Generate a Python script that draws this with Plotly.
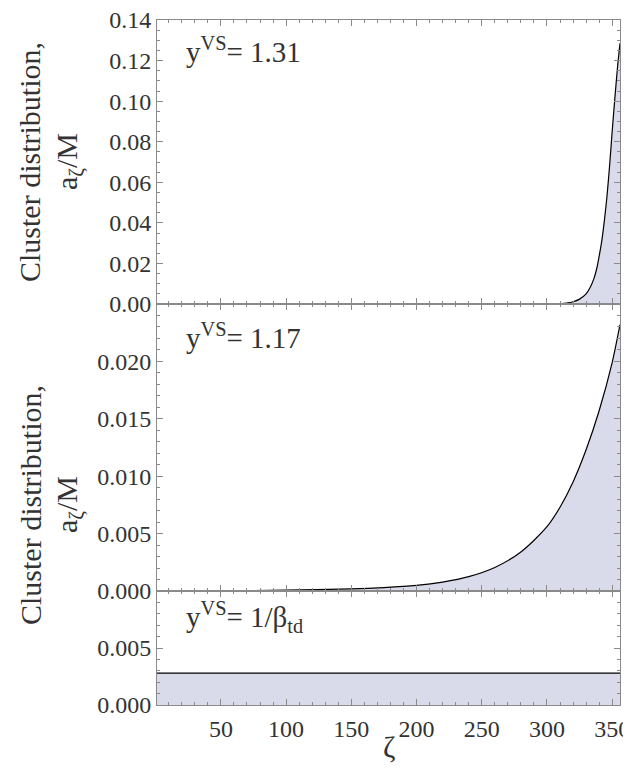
import plotly.graph_objects as go
from plotly.subplots import make_subplots

# Top panel (y_VS = 1.31)
zeta_top = [1, 250, 290, 305, 315, 320, 325, 330, 333, 336, 338, 340, 342, 344, 346, 348, 350, 352, 354, 356]
a_top = [0.0, 0.0, 0.0, 0.0001, 0.0005, 0.0011, 0.0024, 0.0050, 0.0080, 0.0125, 0.0170, 0.0235, 0.0310, 0.0410, 0.0530, 0.0680, 0.0850, 0.1010, 0.1160, 0.1285]

# Middle panel (y_VS = 1.17)
zeta_mid = [1, 50, 100, 150, 175, 200, 220, 240, 260, 280, 300, 310, 320, 330, 340, 350, 356]
a_mid = [0.0, 0.00002, 0.00007, 0.00018, 0.00030, 0.00049, 0.00078, 0.00125, 0.00205, 0.00340, 0.00560, 0.00730, 0.00950, 0.01230, 0.01570, 0.01990, 0.02320]

# Bottom panel (y_VS = 1/beta_td)
zeta_bot = [1, 356]
a_bot = [0.0028, 0.0028]

x_ticks = [50, 100, 150, 200, 250, 300, 350]
panel_labels = ["y<sup>VS</sup>= 1.31", "y<sup>VS</sup>= 1.17", "y<sup>VS</sup>= 1/β<sub>td</sub>"]
y_title_1 = "Cluster distribution,"
y_title_2 = "a<sub>ζ</sub>/M"

FILL = "rgba(218,219,234,1)"
FRAME = "#8a8a8a"
FONT = "'Liberation Serif', 'Times New Roman', serif"
TXT = "#333"

fig = make_subplots(rows=3, cols=1, shared_xaxes=True, vertical_spacing=0,
                    row_heights=[284, 287, 114])

for r, (xs, ys) in enumerate([(zeta_top, a_top), (zeta_mid, a_mid), (zeta_bot, a_bot)], start=1):
    fig.add_trace(go.Scatter(x=xs, y=ys, mode="lines", line=dict(color="black", width=1.2, shape="spline", smoothing=0.8),
                             fill="tozeroy", fillcolor=FILL, showlegend=False, hoverinfo="skip"), row=r, col=1)

xcommon = dict(range=[1, 356], showgrid=False, zeroline=False, showline=True, linecolor=FRAME, linewidth=1,
               mirror="allticks", ticks="inside", ticklen=6, tickcolor=FRAME, tickvals=x_ticks,
               minor=dict(ticks="inside", dtick=10, tick0=0, ticklen=3, tickcolor=FRAME),
               tickfont=dict(family=FONT, size=24, color=TXT), automargin=False, ticklabelstandoff=2,
               ticklabeloverflow="allow")
for r in (1, 2, 3):
    fig.update_xaxes(**xcommon, row=r, col=1)
fig.update_xaxes(showticklabels=False, row=1, col=1)
fig.update_xaxes(showticklabels=False, row=2, col=1)

ycommon = dict(showgrid=False, zeroline=False, showline=True, linecolor=FRAME, linewidth=1,
               mirror="allticks", ticks="inside", ticklen=6, tickcolor=FRAME,
               tickfont=dict(family=FONT, size=24, color=TXT), automargin=False, ticklabeloverflow="allow")
fig.update_yaxes(**ycommon, range=[0, 0.14], dtick=0.02, tickformat=".2f",
                 minor=dict(ticks="inside", dtick=0.005, ticklen=3, tickcolor=FRAME), row=1, col=1)
fig.update_yaxes(**ycommon, range=[0, 0.025], tickvals=[0, 0.005, 0.01, 0.015, 0.02], tickformat=".3f",
                 minor=dict(ticks="inside", dtick=0.001, ticklen=3, tickcolor=FRAME), row=2, col=1)
fig.update_yaxes(**ycommon, range=[0, 0.01], tickvals=[0, 0.005], tickformat=".3f",
                 minor=dict(ticks="inside", dtick=0.001, ticklen=3, tickcolor=FRAME), row=3, col=1)

# x-axis title as annotation
fig.add_annotation(text="ζ", xref="paper", yref="paper", x=0.5, y=(705 - 746) / 685,
                   xanchor="center", yanchor="middle", showarrow=False,
                   font=dict(family=FONT, size=30, color=TXT))

label_y = [0.896, 0.887, 0.775]
for i, (lab, yy) in enumerate(zip(panel_labels, label_y), start=1):
    suffix = "" if i == 1 else str(i)
    fig.add_annotation(text=lab, xref=f"x{suffix} domain", yref=f"y{suffix} domain", x=0.058, y=yy,
                       xanchor="left", yanchor="middle", showarrow=False,
                       font=dict(family=FONT, size=29, color=TXT))

# y titles (two lines, placed separately)
W = 463
for yc in (162, 505):
    yp = (705 - yc) / 685
    fig.add_annotation(text=y_title_1, xref="paper", yref="paper", x=(30 - 157) / W, y=yp,
                       xanchor="center", yanchor="middle", showarrow=False, textangle=-90,
                       font=dict(family=FONT, size=30, color=TXT))
    fig.add_annotation(text=y_title_2, xref="paper", yref="paper", x=(69 - 157) / W, y=yp,
                       xanchor="center", yanchor="middle", showarrow=False, textangle=-90,
                       font=dict(family=FONT, size=30, color=TXT))

# page body has an 8px margin: shift the figure with the margins to compensate
fig.update_layout(width=623, height=756, margin=dict(l=149, r=11, t=12, b=59),
                  plot_bgcolor="white", paper_bgcolor="white", font=dict(family=FONT))

fig.write_html("out.html")
